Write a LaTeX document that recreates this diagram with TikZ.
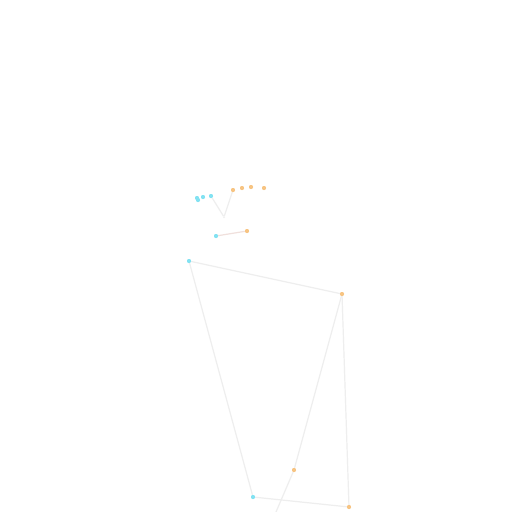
\documentclass[tikz,border=0pt]{standalone}
\usepackage{tikz}
\tikzset{>=latex}
\definecolor{posecyan}{RGB}{130, 226, 242}
\definecolor{poseorange}{RGB}{247, 196, 130}
\definecolor{limbgray}{RGB}{238, 238, 238}
\definecolor{mouthline}{RGB}{240, 224, 220}
\tikzset{
  joint/.style={circle, inner sep=0pt, minimum size=4pt},
  leftjoint/.style={joint, fill=posecyan},
  rightjoint/.style={joint, fill=poseorange},
  hidejoint/.style={joint, fill=limbgray, minimum size=2pt},
  limb/.style={draw=limbgray, line width=1.2pt}
}
\begin{document}
\begin{tikzpicture}[x=1pt, y=-1pt]
\useasboundingbox[fill=white] (0,0) rectangle (512,512);
% face
\node[hidejoint] (nose) at (224,217) {};
\node[leftjoint] (lface1) at (197,198) {};
\node[leftjoint] (lface2) at (203,197) {};
\node[leftjoint] (lface3) at (211,196) {};
\node[leftjoint] (lface0) at (198,200) {};
\node[rightjoint] (rface1) at (233,190) {};
\node[rightjoint] (rface2) at (242,188) {};
\node[rightjoint] (rface3) at (251,187) {};
\node[rightjoint] (rface4) at (264,188) {};
\node[leftjoint] (lmouth) at (216,236) {};
\node[rightjoint] (rmouth) at (247,231) {};
% body
\node[leftjoint] (lshoulder) at (189,261) {};
\node[rightjoint] (rshoulder) at (342,294) {};
\node[leftjoint] (lhip) at (253,497) {};
\node[rightjoint] (rhip) at (349,507) {};
\node[rightjoint] (relbow) at (294,470) {};
\coordinate (rwrist) at (276,512);

\draw[limb] (lface3) -- (nose) -- (rface1);
\draw[draw=mouthline, line width=1.2pt] (lmouth) -- (rmouth);
\draw[limb] (lshoulder) -- (rshoulder) -- (rhip) -- (lhip) -- (lshoulder);
\draw[limb] (rshoulder) -- (relbow) -- (rwrist);
\foreach \j in {lface0, lface1, lface2, lface3, lmouth, lshoulder, lhip}{
\node[leftjoint] at (\j) {};
}
\foreach \j in {rface1, rface2, rface3, rface4, rmouth, rshoulder, rhip, relbow}{
\node[rightjoint] at (\j) {};
}
\end{tikzpicture}
\end{document}
